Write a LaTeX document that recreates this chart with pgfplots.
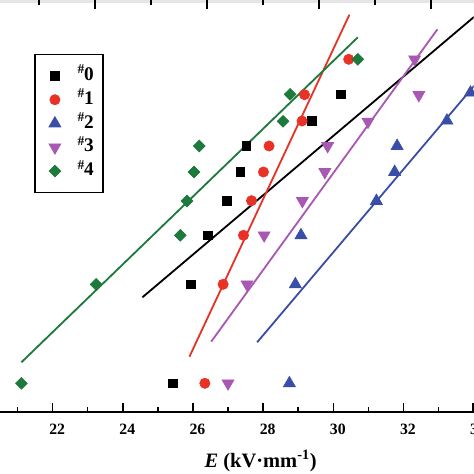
\documentclass[border=0pt]{standalone}
\usepackage{fontspec}
\setmainfont{Liberation Serif}
\usepackage{pgfplots}
\pgfplotsset{compat=1.18}
\definecolor{cRed}{RGB}{233,50,38}
\definecolor{cBlue}{RGB}{58,78,168}
\definecolor{cPurple}{RGB}{168,88,178}
\definecolor{cGreen}{RGB}{30,122,60}
\begin{document}
\begin{tikzpicture}
\begin{axis}[
  scale only axis,
  width=312.56pt, height=271.92pt,
  xmin=20.5, xmax=34.0, ymin=0, ymax=412,
  axis line style={draw=none},
  xtick pos=left, ytick=\empty,
  xtick={22,24,...,34},
  minor xtick={21,23,...,33},
  tick align=inside,
  major tick length=6pt, minor tick length=3.3pt,
  every tick/.append style={line width=1pt},
  /pgf/number format/assume math mode=true,
  xticklabel style={font=\fontsize{10.4}{12}\selectfont\bfseries, yshift=-4.5pt, xshift=3pt},
  xlabel={\textbf{\textit{E}} \textbf{(kV·mm\textsuperscript{-1})}},
  xlabel style={at={(axis description cs:0.5505,0)}, anchor=base, yshift=-36.3pt, font=\fontsize{13.5}{16}\selectfont\bfseries},
  legend style={at={(axis description cs:0.0718,0.869)}, anchor=north west, draw=black, line width=1pt,
    inner xsep=4pt, inner ysep=7pt, row sep=1.7pt, column sep=9pt,
    font=\fontsize{12.7}{14}\selectfont\bfseries,
    nodes={inner sep=2pt, text height=8pt, text depth=2pt}},
  legend image code/.code={\path[draw=none] (0pt,-2pt) rectangle (13pt,2pt); \draw[#1, line width=0.4pt] plot coordinates {(9.3pt,0pt)};},
  legend cell align=left,
]
% fitted lines
\addplot[forget plot, black, line width=1.2pt] coordinates {(24.56,114.7) (34.02,395.3)};
\addplot[forget plot, cRed, line width=1.2pt] coordinates {(25.90,55.3) (30.46,397.3)};
\addplot[forget plot, cBlue, line width=1.2pt] coordinates {(27.83,69.7) (34.02,326.4)};
\addplot[forget plot, cPurple, line width=1.2pt] coordinates {(26.52,70.3) (32.97,382.7)};
\addplot[forget plot, cGreen, line width=1.2pt] coordinates {(21.11,49.7) (30.70,374.7)};
% data
\addplot[only marks, mark=square*, mark size=2.9pt, black] coordinates {
 (30.22,317.7) (29.39,291) (27.52,266) (27.35,240) (26.97,211) (26.43,176.7) (25.94,127.7) (25.43,28.7)};
\addlegendentry{\textsuperscript{\#}\kern-0.6pt0}
\addplot[only marks, mark=*, mark size=3.4pt, cRed] coordinates {
 (30.44,352.7) (29.18,317.3) (29.11,291) (28.17,266) (28.01,240) (27.67,211.3) (27.44,176.7) (26.86,127.7) (26.34,28.7)};
\addlegendentry{\textsuperscript{\#}\kern-0.6pt1}
\addplot[only marks, mark=triangle*, mark size=4.6pt, cBlue] coordinates {
 (33.91,319.3) (33.24,291.3) (31.82,266) (31.75,240) (31.23,211) (29.08,176.7) (28.92,127.7) (28.75,28.7)};
\addlegendentry{\textsuperscript{\#}\kern-0.6pt2}
\addplot[only marks, mark=triangle*, mark size=4.6pt, mark options={rotate=180}, cPurple] coordinates {
 (32.32,352.7) (32.44,317) (30.99,290.3) (29.84,266) (29.76,240) (29.12,211) (28.03,176.7) (27.54,127.7) (27.00,28.7)};
\addlegendentry{\textsuperscript{\#}\kern-0.6pt3}
\addplot[only marks, mark=square*, mark size=2.75pt, mark options={rotate=45}, cGreen] coordinates {
 (30.70,352.7) (28.77,317.7) (28.57,290.7) (26.18,266) (26.03,240) (25.83,211) (25.64,176.7) (23.24,127.7) (21.11,28.7)};
\addlegendentry{\textsuperscript{\#}\kern-0.6pt4}
\coordinate (SW) at (rel axis cs:0,0);
\end{axis}
% bottom axis line (in pieces)
\draw[black, line width=1.3pt] (SW) ++(0pt,0pt) -- ++(80pt,0pt);
\draw[black, line width=1.3pt] (SW) ++(79pt,0pt) -- ++(80pt,0pt);
\draw[black, line width=1.3pt] (SW) ++(158pt,0pt) -- ++(80pt,0pt);
\draw[black, line width=1.3pt] (SW) ++(237pt,0pt) -- ++(76pt,0pt);
% bottom ticks, pointing inward
\draw[black, line width=1pt] (SW) ++(11.58pt,0pt) -- ++(0pt,3.3pt);
\draw[black, line width=1pt] (SW) ++(34.73pt,0pt) -- ++(0pt,6pt);
\draw[black, line width=1pt] (SW) ++(57.88pt,0pt) -- ++(0pt,3.3pt);
\draw[black, line width=1pt] (SW) ++(81.04pt,0pt) -- ++(0pt,6pt);
\draw[black, line width=1pt] (SW) ++(104.19pt,0pt) -- ++(0pt,3.3pt);
\draw[black, line width=1pt] (SW) ++(127.34pt,0pt) -- ++(0pt,6pt);
\draw[black, line width=1pt] (SW) ++(150.49pt,0pt) -- ++(0pt,3.3pt);
\draw[black, line width=1pt] (SW) ++(173.65pt,0pt) -- ++(0pt,6pt);
\draw[black, line width=1pt] (SW) ++(196.80pt,0pt) -- ++(0pt,3.3pt);
\draw[black, line width=1pt] (SW) ++(219.95pt,0pt) -- ++(0pt,6pt);
\draw[black, line width=1pt] (SW) ++(243.11pt,0pt) -- ++(0pt,3.3pt);
\draw[black, line width=1pt] (SW) ++(266.26pt,0pt) -- ++(0pt,6pt);
\draw[black, line width=1pt] (SW) ++(289.41pt,0pt) -- ++(0pt,3.3pt);
\draw[black, line width=1pt] (SW) ++(312.2pt,0pt) -- ++(0pt,6pt);
% light top band with ticks
\draw[gray!20, line width=2pt] (SW) ++(0pt,270.9pt) -- ++(160pt,0pt);
\draw[gray!20, line width=2pt] (SW) ++(159pt,270.9pt) -- ++(154pt,0pt);
\draw[black, line width=0.9pt] (SW) ++(25.74pt,271.92pt) -- ++(0pt,-3.3pt);
\draw[black, line width=0.9pt] (SW) ++(99.66pt,271.92pt) -- ++(0pt,-3.3pt);
\draw[black, line width=0.9pt] (SW) ++(173.58pt,271.92pt) -- ++(0pt,-3.3pt);
\draw[black, line width=0.9pt] (SW) ++(247.5pt,271.92pt) -- ++(0pt,-3.3pt);
\draw[black, line width=0.9pt] (SW) ++(62.7pt,271.92pt) -- ++(0pt,-5.94pt);
\draw[black, line width=0.9pt] (SW) ++(136.62pt,271.92pt) -- ++(0pt,-5.94pt);
\draw[black, line width=0.9pt] (SW) ++(210.54pt,271.92pt) -- ++(0pt,-5.94pt);
\draw[black, line width=0.9pt] (SW) ++(284.46pt,271.92pt) -- ++(0pt,-5.94pt);
\pgfresetboundingbox
\path (SW) ++(0pt,-40.92pt) rectangle ++(312.84pt,312.84pt);
\end{tikzpicture}
\end{document}
